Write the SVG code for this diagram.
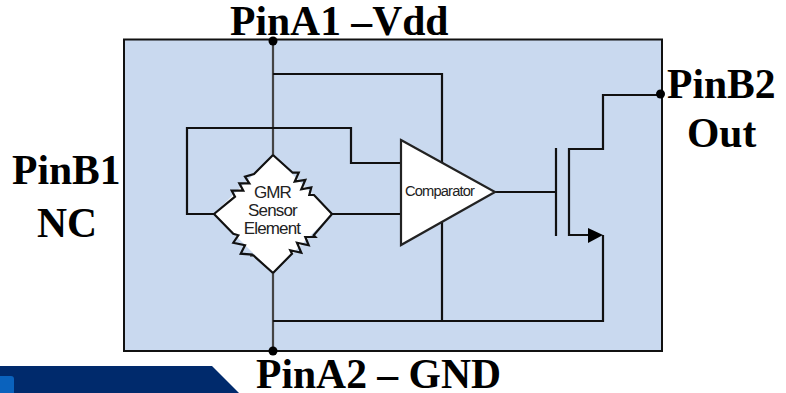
<svg xmlns="http://www.w3.org/2000/svg" width="786" height="393" viewBox="0 0 786 393">
<style>
.w{fill:none;stroke:#111;stroke-width:2.2}
.g{fill:none;stroke:#444;stroke-width:2.2}
.s{fill:#fff;stroke:#222;stroke-width:2.2;stroke-linejoin:miter}
.d{fill:#000}
.p{font-family:"Liberation Serif",serif;font-weight:bold;font-size:41.600px;fill:#000}
.l{font-family:"Liberation Sans",sans-serif;fill:#222}
.g1{font-size:17px;letter-spacing:-.85px;text-anchor:middle}
</style>
<rect width="786" height="393" fill="#fff"/>
<g id="footer">
<path d="M0 366H212L239 393H0Z" fill="#002a6c"/>
<rect x="-4" y="376" width="18" height="20" rx="3" fill="#0a62bd"/>
</g>
<g id="package"><rect x="124" y="39.500" width="538" height="311.500" fill="#c9d9ef" stroke="#111" stroke-width="2"/></g>
<g id="connectors">
<path class="g" d="M273 40V155M273 273V351"/>
<path class="w" d="M273 74H442V321M273 321H603V235"/>
<path class="w" d="M214 214H187V128H351V163H401M332 214H401"/>
<path class="w" d="M495 192H556"/>
<path class="w" d="M660 95H603V149H569V235H590"/>
<path class="w" d="M556 148V236"/>
<path class="d" d="M588 228L603 235L588 243Z"/>
<circle class="d" cx="273" cy="41" r="4.500"/>
<circle class="d" cx="273" cy="351" r="4.500"/>
<circle class="d" cx="660.500" cy="94" r="4.500"/>
</g>
<g id="gmr">
<path d="M273 155L332 214L273 273L214 214Z" fill="#fff"/>
<path class="w" d="M273 155L254 174L245 176.700L249.300 183.300L239.300 183.300L243.300 190.700L231.700 190.700L235 196.700L214 214"/>
<path class="w" d="M273 155L292.700 172.700L298.700 172.700L294.700 181.700L305.300 180L301.300 189.300L311.300 187.300L309.300 195L314 195L332 214"/>
<path class="w" d="M214 214L233.300 233.700L238.300 235.300L233.300 242.700L245 245.300L240.700 253.700L252.700 254.700L250 255.300L253.300 255.300L273 273"/>
<path class="w" d="M332 214L313.700 235.300L315.300 237L305.300 237L308.700 245.300L297 242.700L301.300 252.700L290.300 250.300L292 253.700L273 273"/>
<text class="l g1" x="272.500" y="198">GMR</text>
<text class="l g1" x="272.500" y="216">Sensor</text>
<text class="l g1" x="272" y="234">Element</text>
</g>
<g id="comparator">
<path class="s" d="M401 140L495 192L401 245Z"/>
<text class="l" font-size="14.700" letter-spacing="-.85" x="405" y="196">Comparator</text>
</g>
<g id="pinA1"><text class="p" x="230" y="35">PinA1 –Vdd</text></g>
<g id="pinA2"><text class="p" x="256" y="388">PinA2 – GND</text></g>
<g id="pinB1"><text class="p" x="12" y="184">PinB1</text><text class="p" x="37" y="237">NC</text></g>
<g id="pinB2"><text class="p" x="667" y="98">PinB2</text><text class="p" x="687" y="147">Out</text></g>
</svg>
